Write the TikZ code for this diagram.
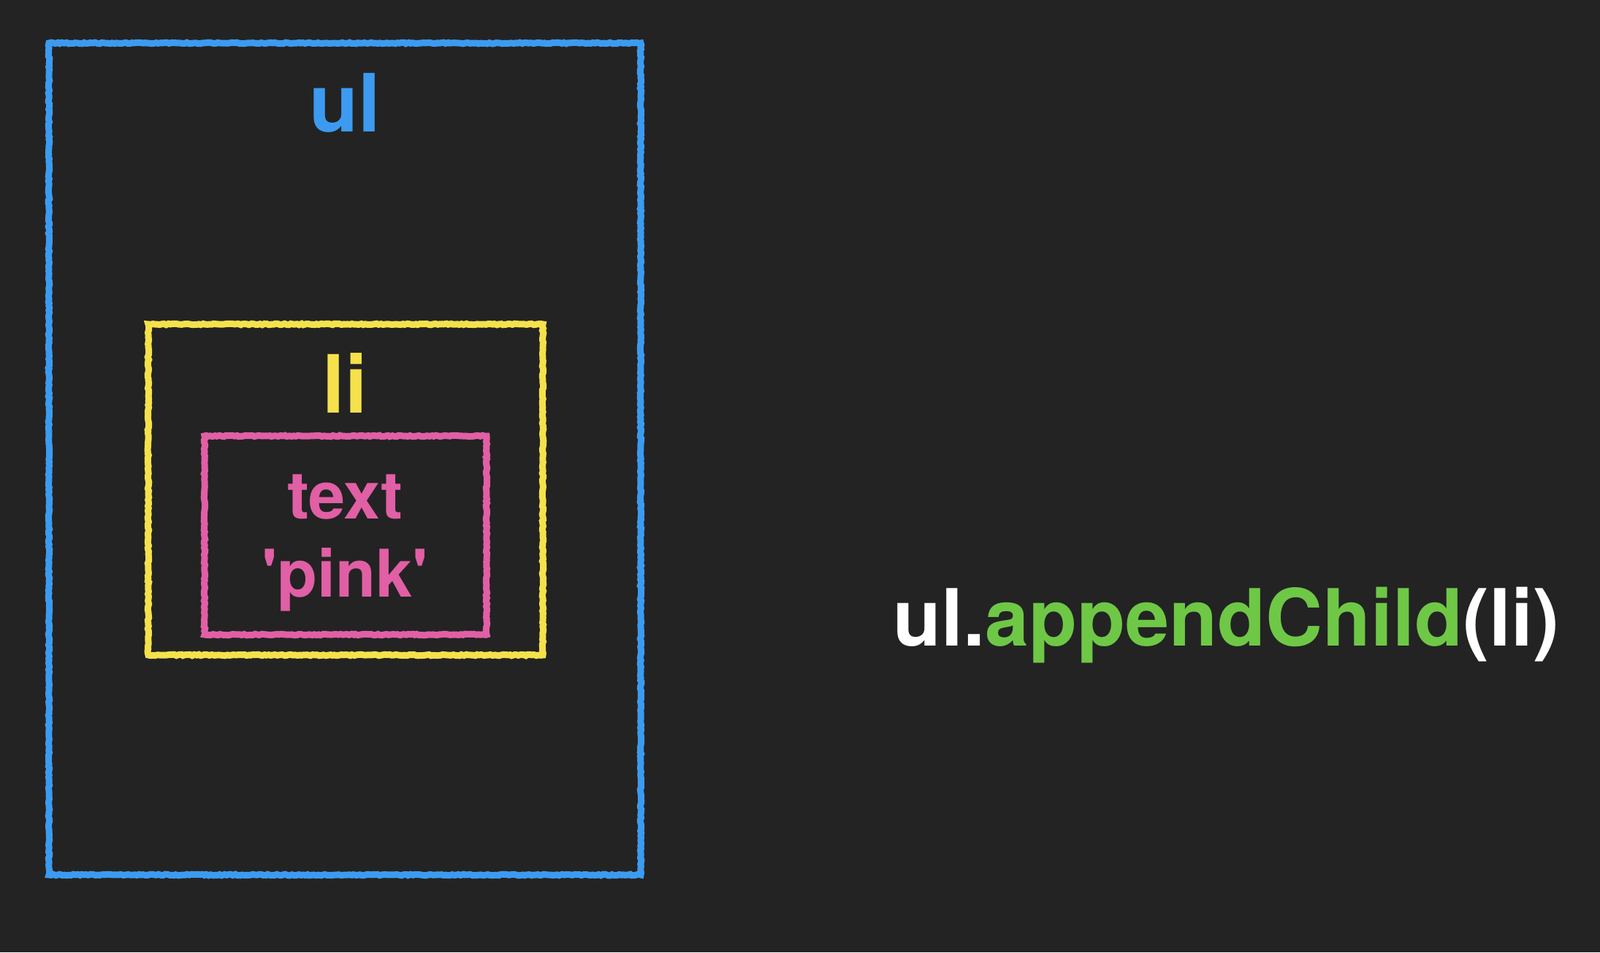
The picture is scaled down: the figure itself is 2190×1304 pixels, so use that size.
\documentclass[tikz,border=0pt]{standalone}
\usepackage{fontspec}
\setmainfont{TeX Gyre Heros}
\usetikzlibrary{decorations.pathmorphing}
\definecolor{bgc}{RGB}{35,35,35}
\definecolor{ulblue}{RGB}{60,155,240}
\definecolor{liyellow}{RGB}{245,225,75}
\definecolor{txtpink}{RGB}{225,95,165}
\definecolor{fngreen}{RGB}{110,200,70}
\tikzset{
  chalk/.style={draw=#1, line width=9pt, decorate, decoration={random steps, segment length=3pt, amplitude=0.8pt}},
  big/.style={font=\bfseries\fontsize{110}{110}\selectfont, anchor=base, inner sep=0pt},
  mid/.style={font=\bfseries\fontsize{90}{107}\selectfont, anchor=base, inner sep=0pt, align=center},
}
\begin{document}
\begin{tikzpicture}[x=1pt,y=-1pt]
\fill[bgc] (0,0) rectangle (2190,1304);
\useasboundingbox (0,0) rectangle (2190,1304);
% boxes
\coordinate (ulA) at (67,59);  \coordinate (ulB) at (877,1198);
\coordinate (liA) at (203,444); \coordinate (liB) at (743,897);
\coordinate (txA) at (280,597); \coordinate (txB) at (666,869);
\draw[chalk=ulblue] (ulA) rectangle (ulB);
\draw[chalk=liyellow] (liA) rectangle (liB);
\draw[chalk=txtpink] (txA) rectangle (txB);
% labels
\node[big, text=ulblue] (ullabel) at (472,180) {ul};
\node[big, text=liyellow] (lilabel) at (472,565) {li};
\node[mid, text=txtpink] (txt1) at (472,710) {text};
\node[mid, text=txtpink] (txt2) at (472,817) {\textquotesingle pink\textquotesingle};
\node[font=\bfseries\fontsize{108}{108}\selectfont, anchor=base west, inner sep=0pt, text=white] (code) at (1222,884)
  {ul.\textcolor{fngreen}{appendChild}(li)};
\end{tikzpicture}
\end{document}
